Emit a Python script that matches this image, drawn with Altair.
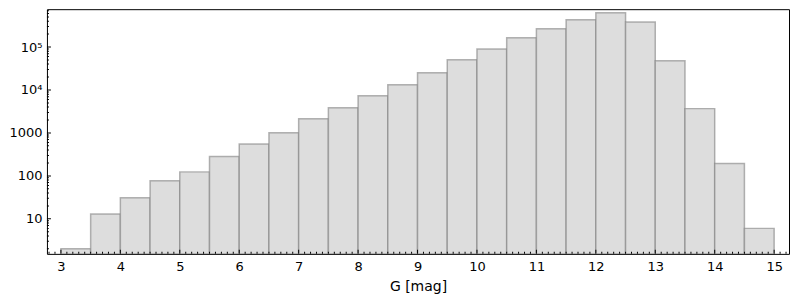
import math
import altair as alt
import pandas as pd

bin_start = [3.0, 3.5, 4.0, 4.5, 5.0, 5.5, 6.0, 6.5, 7.0, 7.5, 8.0, 8.5,
             9.0, 9.5, 10.0, 10.5, 11.0, 11.5, 12.0, 12.5, 13.0, 13.5, 14.0, 14.5]
bin_end = [3.5, 4.0, 4.5, 5.0, 5.5, 6.0, 6.5, 7.0, 7.5, 8.0, 8.5, 9.0,
           9.5, 10.0, 10.5, 11.0, 11.5, 12.0, 12.5, 13.0, 13.5, 14.0, 14.5, 15.0]
counts = [2, 13, 31, 77, 124, 281, 555, 1010, 2150, 3870, 7370, 13300,
          25200, 50700, 89800, 164000, 267000, 430000, 630000, 380000, 48000, 3680, 193, 6]

x_ticks = [3, 4, 5, 6, 7, 8, 9, 10, 11, 12, 13, 14, 15]
y_ticks = [10, 100, 1000, 10000, 100000]
y_labels = ["10", "100", "1000", "10⁴", "10⁵"]

X_MIN, X_MAX = 2.765, 15.25
Y_MIN, Y_MAX = 1.53, 7.6e5
LY_MIN, LY_MAX = math.log10(Y_MIN), math.log10(Y_MAX)

df = pd.DataFrame({"start": bin_start, "end": bin_end, "count": counts})

x_minor = [round(2.8 + 0.1 * i, 1) for i in range(125)]
x_minor = [v for v in x_minor if abs(v - round(v)) > 1e-6 and X_MIN <= v <= X_MAX]
y_minor = [math.log10(m * 10 ** e) for e in range(0, 6) for m in range(2, 10)]
y_minor = [v for v in y_minor if LY_MIN <= v <= LY_MAX]
y_major = [math.log10(v) for v in y_ticks]

xs = alt.Scale(domain=[X_MIN, X_MAX], nice=False, zero=False)
ys = alt.Scale(domain=[LY_MIN, LY_MAX], nice=False, zero=False)

label_expr = ""
for v, l in zip(y_ticks, y_labels):
    label_expr += f"round(datum.value) == {round(math.log10(v))} ? '{l}' : "
label_expr += "''"

x_axis = alt.Axis(orient="bottom", values=x_ticks, ticks=False, domain=False, grid=False,
                  title="G [mag]", labelPadding=7, format="d", titlePadding=6)
y_axis = alt.Axis(orient="left", values=y_major, labelExpr=label_expr, ticks=False,
                  domain=False, grid=False, title=None, labelPadding=5)

bars = alt.Chart(df).transform_calculate(
    lc="log(datum.count) / LN10"
).mark_bar(
    fill="#dddddd", stroke="#808080", strokeOpacity=0.6, strokeWidth=1.5, clip=True
).encode(
    x=alt.X("start:Q", scale=xs, axis=x_axis),
    x2="end:Q",
    y=alt.Y("lc:Q", scale=ys, axis=y_axis),
    y2=alt.datum(LY_MIN),
)


def xtick_layer(vals, size):
    return alt.Chart(pd.DataFrame({"v": vals})).mark_tick(
        orient="vertical", size=size, thickness=1, color="black", clip=True, opacity=1
    ).encode(
        x=alt.X("v:Q", scale=xs, axis=x_axis),
        y=alt.Y(datum=LY_MIN, scale=ys, axis=y_axis),
    )


def ytick_layer(vals, size):
    return alt.Chart(pd.DataFrame({"v": vals})).mark_tick(
        orient="horizontal", size=size, thickness=1, color="black", clip=True, opacity=1
    ).encode(
        y=alt.Y("v:Q", scale=ys, axis=y_axis),
        x=alt.X(datum=X_MIN, scale=xs, axis=x_axis),
    )


chart = alt.layer(
    bars,
    xtick_layer(x_ticks, 8),
    xtick_layer(x_minor, 4),
    ytick_layer(y_major, 8),
    ytick_layer(y_minor, 4),
).properties(
    width=743, height=245,
    padding={"left": 0, "top": 1, "right": 3, "bottom": 0},
).configure_view(
    stroke="black", strokeWidth=1
).configure_axis(
    labelFont="DejaVu Sans", labelFontSize=13, labelColor="black",
    titleFont="DejaVu Sans", titleFontSize=14, titleFontWeight="normal", titleColor="black",
)

chart.save("out.html", embed_options={"renderer": "svg", "actions": False})
